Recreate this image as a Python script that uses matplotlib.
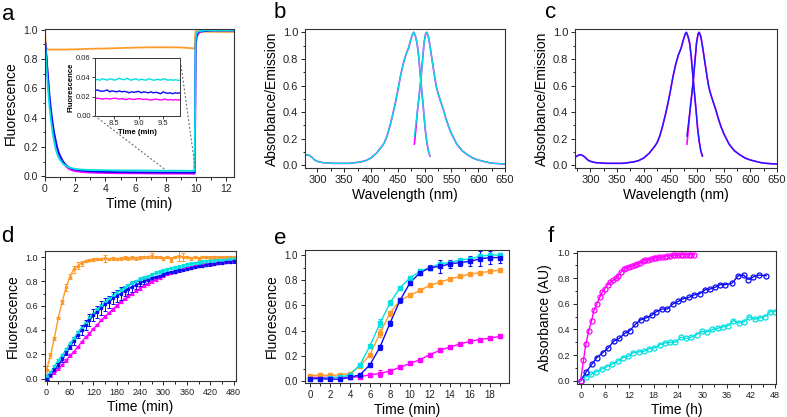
import numpy as np
import matplotlib
matplotlib.use("Agg")
import matplotlib.pyplot as plt
from matplotlib.patches import ConnectionPatch
from matplotlib.ticker import MultipleLocator

plt.rcParams['font.family'] = ['Liberation Sans', 'DejaVu Sans']

MAG = '#FF00FF'
BLUE = '#0A0AF5'
CYAN = '#00E0E0'
ORANGE = '#FF9A2A'

# ---------- panel a: fluorescence time course ----------
t_a = [0, 0.05, 0.1, 0.2, 0.3, 0.4, 0.5, 0.6, 0.7, 0.8, 0.9, 1.0, 1.2, 1.4, 1.6, 1.8, 2.0,
       2.5, 3, 4, 5, 6, 7, 8, 9, 9.9, 9.93, 9.96, 10.0, 10.05, 10.1, 10.2, 10.3, 10.5, 11, 12, 12.5]
a_orange = [1.0, 0.9, 0.87, 0.865, 0.865, 0.865, 0.865, 0.865, 0.865, 0.865, 0.865, 0.865, 0.865,
            0.865, 0.866, 0.866, 0.866, 0.868, 0.87, 0.872, 0.875, 0.878, 0.88, 0.88, 0.879, 0.872,
            0.95, 0.99, 0.99, 0.99, 0.99, 0.988, 0.988, 0.987, 0.986, 0.985, 0.985]
a_magenta = [0.93, 0.87, 0.8, 0.65, 0.52, 0.42, 0.34, 0.27, 0.22, 0.18, 0.15, 0.12, 0.09, 0.065,
             0.05, 0.04, 0.035, 0.028, 0.025, 0.022, 0.02, 0.02, 0.019, 0.018, 0.018, 0.017,
             0.3, 0.8, 0.92, 0.95, 0.965, 0.98, 0.985, 0.99, 0.995, 0.995, 0.995]
a_blue = [0.93, 0.88, 0.82, 0.68, 0.55, 0.45, 0.37, 0.30, 0.25, 0.20, 0.165, 0.14, 0.10, 0.075,
          0.06, 0.05, 0.045, 0.038, 0.033, 0.03, 0.028, 0.027, 0.026, 0.026, 0.025, 0.025,
          0.4, 0.88, 0.95, 0.97, 0.98, 0.985, 0.99, 0.99, 0.995, 0.995, 0.995]
a_cyan = [0.92, 0.84, 0.75, 0.60, 0.47, 0.38, 0.30, 0.24, 0.19, 0.155, 0.13, 0.11, 0.085, 0.07,
          0.06, 0.055, 0.05, 0.045, 0.043, 0.041, 0.04, 0.04, 0.039, 0.038, 0.038, 0.037,
          0.5, 0.93, 0.97, 0.98, 0.985, 0.99, 0.99, 0.995, 0.995, 0.995, 0.995]

# inset (zoom on 8.1 - 9.9 min)
t_in = [8.1, 8.15, 8.2, 8.25, 8.3, 8.35, 8.4, 8.45, 8.5, 8.55, 8.6, 8.65, 8.7, 8.75, 8.8, 8.85,
        8.9, 8.95, 9.0, 9.05, 9.1, 9.15, 9.2, 9.25, 9.3, 9.35, 9.4, 9.45, 9.5, 9.55, 9.6, 9.65,
        9.7, 9.75, 9.8, 9.85]
in_cyan = [0.037, 0.038, 0.037, 0.0385, 0.038, 0.037, 0.0385, 0.038, 0.037, 0.038, 0.039, 0.038,
           0.0375, 0.039, 0.038, 0.037, 0.038, 0.0385, 0.037, 0.038, 0.0375, 0.037, 0.0385, 0.038,
           0.037, 0.0375, 0.038, 0.037, 0.0385, 0.038, 0.037, 0.0375, 0.037, 0.0375, 0.037, 0.037]
in_blue = [0.026, 0.027, 0.026, 0.0255, 0.026, 0.027, 0.025, 0.026, 0.0255, 0.025, 0.026, 0.025,
           0.0255, 0.025, 0.024, 0.025, 0.0245, 0.025, 0.0255, 0.024, 0.025, 0.0245, 0.024, 0.025,
           0.024, 0.0245, 0.024, 0.023, 0.025, 0.024, 0.0235, 0.024, 0.023, 0.024, 0.0235, 0.024]
in_magenta = [0.018, 0.0185, 0.018, 0.0175, 0.018, 0.018, 0.0175, 0.018, 0.0185, 0.018, 0.0175,
              0.018, 0.0175, 0.017, 0.018, 0.0175, 0.017, 0.0175, 0.018, 0.0175, 0.017, 0.0175,
              0.017, 0.0165, 0.017, 0.0175, 0.017, 0.0165, 0.017, 0.0175, 0.0165, 0.017, 0.0165,
              0.017, 0.0165, 0.017]

# ---------- panels b, c: absorbance / emission spectra ----------
wl_abs = [270, 275, 280, 285, 290, 295, 300, 310, 320, 330, 340, 350, 360, 370, 380, 390, 400,
          410, 420, 425, 430, 435, 440, 445, 450, 455, 460, 465, 470, 474, 478, 480, 483, 486,
          489, 492, 495, 498, 501, 504, 507, 510]
absorb = [0.06, 0.07, 0.08, 0.075, 0.06, 0.04, 0.03, 0.02, 0.018, 0.015, 0.015, 0.015, 0.015,
          0.02, 0.025, 0.035, 0.055, 0.09, 0.14, 0.17, 0.22, 0.29, 0.37, 0.46, 0.56, 0.67, 0.76,
          0.83, 0.88, 0.94, 0.99, 1.0, 0.97, 0.92, 0.82, 0.68, 0.55, 0.42, 0.28, 0.18, 0.11, 0.07]
wl_em = [481, 484, 487, 490, 493, 496, 499, 502, 504, 507, 510, 513, 516, 519, 522, 526, 530,
         535, 540, 545, 550, 555, 560, 570, 580, 590, 600, 610, 620, 630, 640, 650]
emis = [0.19, 0.30, 0.42, 0.53, 0.64, 0.78, 0.92, 0.99, 1.0, 0.97, 0.9, 0.82, 0.74, 0.66, 0.59,
        0.53, 0.48, 0.42, 0.35, 0.29, 0.24, 0.2, 0.16, 0.11, 0.08, 0.055, 0.04, 0.03, 0.02,
        0.015, 0.012, 0.01]
emis_start_mag = [0.16, 0.28]     # first two emission points of the magenta trace
emis_start_other = [0.22, 0.32]

# ---------- panel d ----------
t_d = [0, 10, 20, 30, 40, 50, 60, 70, 80, 90, 100, 110, 120, 130, 140, 150, 160, 170, 180, 190,
       200, 210, 220, 230, 240, 250, 260, 270, 280, 290, 300, 310, 320, 330, 340, 350, 360, 370,
       380, 390, 400, 410, 420, 430, 440, 450, 460, 470, 480]
d_orange = [0.07, 0.19, 0.33, 0.50, 0.63, 0.75, 0.84, 0.90, 0.93, 0.95, 0.97, 0.975, 0.98, 0.985,
            0.985, 0.99, 0.985, 0.99, 0.985, 0.99, 0.995, 0.99, 0.995, 0.99, 0.995, 1.0, 1.0, 1.01,
            1.0, 1.0, 0.99, 1.0, 0.98, 1.0, 1.01, 1.0, 1.0, 0.99, 1.0, 0.99, 1.0, 1.0, 0.99, 1.0,
            1.0, 0.995, 1.0, 1.0, 1.0]
d_orange_err = [0.03, 0.02, 0.01, 0.01, 0.02, 0.03, 0.02, 0.03, 0.03, 0.02, 0.01, 0.01, 0.01, 0.01,
                0.01, 0.03, 0.01, 0.01, 0.01, 0.01, 0.01, 0.01, 0.01, 0.01, 0.01, 0.01, 0.01, 0.02,
                0.01, 0.01, 0.01, 0.01, 0.02, 0.01, 0.04, 0.03, 0.01, 0.01, 0.01, 0.01, 0.01, 0.01,
                0.02, 0.01, 0.01, 0.01, 0.01, 0.01, 0.01]
d_cyan = [0.02, 0.05, 0.10, 0.15, 0.19, 0.24, 0.29, 0.33, 0.38, 0.42, 0.46, 0.50, 0.53, 0.57,
          0.60, 0.63, 0.66, 0.68, 0.71, 0.73, 0.75, 0.77, 0.79, 0.80, 0.82, 0.83, 0.84, 0.86, 0.87,
          0.88, 0.89, 0.90, 0.91, 0.915, 0.92, 0.93, 0.94, 0.945, 0.95, 0.955, 0.96, 0.965, 0.97,
          0.97, 0.975, 0.98, 0.98, 0.985, 0.985]
d_blue = [0.0, 0.03, 0.07, 0.11, 0.16, 0.21, 0.26, 0.31, 0.36, 0.40, 0.44, 0.48, 0.52, 0.55,
          0.58, 0.61, 0.63, 0.66, 0.68, 0.70, 0.72, 0.74, 0.755, 0.77, 0.785, 0.80, 0.81, 0.825,
          0.835, 0.845, 0.855, 0.865, 0.875, 0.88, 0.89, 0.895, 0.905, 0.91, 0.92, 0.925, 0.93,
          0.935, 0.94, 0.945, 0.95, 0.955, 0.96, 0.962, 0.965]
d_blue_err = [0.01, 0.01, 0.02, 0.02, 0.02, 0.02, 0.02, 0.03, 0.03, 0.04, 0.04, 0.05, 0.05, 0.05,
              0.06, 0.05, 0.05, 0.05, 0.05, 0.05, 0.04, 0.04, 0.04, 0.03, 0.02, 0.02, 0.02, 0.01,
              0.01, 0.01, 0.01, 0.01, 0.01, 0.01, 0.01, 0.01, 0.01, 0.01, 0.01, 0.01, 0.01, 0.01,
              0.01, 0.01, 0.01, 0.01, 0.01, 0.01, 0.01]
d_magenta = [0.0, 0.02, 0.05, 0.08, 0.11, 0.15, 0.19, 0.22, 0.26, 0.30, 0.34, 0.37, 0.41, 0.44,
             0.48, 0.51, 0.54, 0.57, 0.60, 0.63, 0.655, 0.68, 0.70, 0.72, 0.74, 0.76, 0.78, 0.80,
             0.815, 0.83, 0.845, 0.86, 0.87, 0.88, 0.89, 0.90, 0.91, 0.915, 0.925, 0.93, 0.935,
             0.94, 0.945, 0.95, 0.955, 0.96, 0.963, 0.966, 0.97]

# ---------- panel e ----------
t_e = [0, 1, 2, 3, 4, 5, 6, 7, 8, 9, 10, 11, 12, 13, 14, 15, 16, 17, 18, 19]
e_cyan = [0.02, 0.02, 0.025, 0.03, 0.05, 0.13, 0.28, 0.46, 0.62, 0.74, 0.82, 0.87, 0.90, 0.93,
          0.94, 0.96, 0.97, 0.99, 1.0, 1.0]
e_orange = [0.04, 0.05, 0.045, 0.05, 0.06, 0.12, 0.21, 0.38, 0.54, 0.64, 0.68, 0.72, 0.76, 0.785,
            0.81, 0.83, 0.85, 0.86, 0.87, 0.88]
e_blue = [0.02, 0.02, 0.015, 0.015, 0.03, 0.05, 0.13, 0.27, 0.46, 0.64, 0.78, 0.86, 0.90, 0.91,
          0.93, 0.94, 0.95, 0.97, 0.98, 0.98]
e_blue_err = [0.01, 0.01, 0.01, 0.01, 0.01, 0.01, 0.01, 0.02, 0.02, 0.02, 0.02, 0.02, 0.02, 0.05,
              0.03, 0.03, 0.04, 0.06, 0.05, 0.04]
e_magenta = [0.03, 0.03, 0.03, 0.03, 0.03, 0.035, 0.05, 0.06, 0.08, 0.11, 0.14, 0.17, 0.21, 0.245,
             0.27, 0.295, 0.315, 0.33, 0.34, 0.355]
e_err = [0.01, 0.015, 0.01, 0.01, 0.01, 0.01, 0.015, 0.03, 0.02, 0.01, 0.01, 0.01, 0.01, 0.015,
         0.01, 0.01, 0.01, 0.01, 0.01, 0.01]

# ---------- panel f ----------
t_f_mag = [0, 0.7, 1.3, 2.0, 2.7, 3.3, 4.0, 4.7, 5.3, 6.0, 6.7, 7.3, 8.0, 8.7, 9.3, 10.0, 10.7,
           11.3, 12.0, 12.7, 13.3, 14.0, 14.7, 15.3, 16.0, 16.7, 17.3, 18.0, 18.7, 19.3, 20.0,
           20.7, 21.3, 22.0, 22.7, 23.3, 24.0, 24.7, 25.3, 26.0, 26.7, 27.3, 28.0]
f_mag = [0.0, 0.16, 0.29, 0.39, 0.47, 0.55, 0.60, 0.65, 0.69, 0.72, 0.75, 0.77, 0.785, 0.80,
         0.82, 0.85, 0.87, 0.88, 0.89, 0.895, 0.90, 0.91, 0.92, 0.935, 0.94, 0.945, 0.95, 0.955,
         0.96, 0.965, 0.965, 0.97, 0.975, 0.975, 0.98, 0.98, 0.98, 0.985, 0.985, 0.985, 0.985,
         0.985, 0.985]
t_f_blue = [0, 1.4, 2.8, 4.0, 5.5, 6.8, 8.2, 9.5, 10.9, 12.1, 13.5, 14.8, 16.1, 17.5, 18.7, 20.1,
            21.4, 22.8, 24.1, 25.3, 26.7, 28.0, 29.4, 30.7, 31.9, 33.2, 34.4, 35.6, 37.3, 38.9,
            40.2, 41.4, 42.6, 44.0, 45.8]
f_blue = [0, 0.07, 0.13, 0.18, 0.22, 0.255, 0.31, 0.33, 0.37, 0.39, 0.44, 0.475, 0.49, 0.51,
          0.54, 0.56, 0.56, 0.60, 0.62, 0.64, 0.65, 0.67, 0.68, 0.71, 0.715, 0.73, 0.75, 0.75,
          0.76, 0.82, 0.825, 0.79, 0.81, 0.825, 0.82]
t_f_cyan = [0, 1.3, 2.6, 3.9, 5.2, 6.5, 7.8, 9.1, 10.4, 11.7, 13.0, 14.3, 15.6, 16.9, 18.2, 19.5,
            20.8, 22.1, 23.4, 24.7, 26.0, 27.3, 28.6, 29.9, 31.2, 32.5, 33.8, 35.1, 36.4, 37.7,
            39.0, 40.3, 41.6, 42.9, 44.2, 45.5, 46.8, 48.0]
f_cyan = [0, 0.03, 0.05, 0.07, 0.09, 0.11, 0.13, 0.15, 0.18, 0.19, 0.22, 0.225, 0.23, 0.25, 0.255,
          0.28, 0.295, 0.30, 0.30, 0.34, 0.33, 0.34, 0.36, 0.385, 0.38, 0.40, 0.41, 0.42, 0.43,
          0.47, 0.45, 0.46, 0.50, 0.48, 0.49, 0.50, 0.54, 0.54]

W, H = 787, 417
fig = plt.figure(figsize=(W / 100, H / 100), dpi=100)


def px_axes(l, t, r, b):
    return fig.add_axes([l / W, 1 - b / H, (r - l) / W, (b - t) / H])


def style(ax, fs, xmaj, xmin, ymaj=0.2, ymin=0.1):
    ax.xaxis.set_major_locator(MultipleLocator(xmaj))
    ax.xaxis.set_minor_locator(MultipleLocator(xmin))
    ax.yaxis.set_major_locator(MultipleLocator(ymaj))
    ax.yaxis.set_minor_locator(MultipleLocator(ymin))
    ax.tick_params(which='both', direction='out', top=False, right=False,
                   labelsize=fs, colors='#222222', width=0.7, pad=2)
    ax.tick_params(which='major', length=3)
    ax.tick_params(which='minor', length=1.8)
    for s in ax.spines.values():
        s.set_linewidth(0.8)
        s.set_color('#333333')
    ax.yaxis.set_major_formatter(plt.FuncFormatter(lambda v, p: f'{v:.1f}'))


LAB = 10

# ---- a ----
ax = px_axes(45, 29, 234, 177)
ax.plot(t_a, a_orange, color=ORANGE, lw=1.3)
ax.plot(t_a, a_magenta, color=MAG, lw=1.3)
ax.plot(t_a, a_blue, color=BLUE, lw=1.3)
ax.plot(t_a, a_cyan, color=CYAN, lw=1.3)
ax.set_xlim(0, 12.5)
ax.set_ylim(-0.005, 1.005)
style(ax, 7.5, 2, 1)
ax.set_xlabel('Time (min)', fontsize=LAB, labelpad=2)
ax.set_ylabel('Fluorescence', fontsize=LAB, labelpad=4)

axin = px_axes(95, 58, 180, 116)
axin.plot(t_in, in_cyan, color=CYAN, lw=1.0)
axin.plot(t_in, in_blue, color=BLUE, lw=1.0)
axin.plot(t_in, in_magenta, color=MAG, lw=1.0)
axin.set_xlim(8.1, 9.85)
axin.set_ylim(0, 0.06)
axin.xaxis.set_major_locator(MultipleLocator(0.5))
axin.yaxis.set_major_locator(MultipleLocator(0.02))
axin.tick_params(direction='out', labelsize=5.5, length=2, width=0.6, pad=1, colors='#222222')
axin.yaxis.set_major_formatter(plt.FuncFormatter(lambda v, p: f'{v:.2f}'))
for s in axin.spines.values():
    s.set_linewidth(0.7)
    s.set_color('#333333')
axin.set_xlabel('Time (min)', fontsize=5.5, fontweight='bold', labelpad=1)
axin.set_ylabel('Fluorescence', fontsize=5.5, fontweight='bold', labelpad=1)
for xa, xb in [((0, 0), (7.95, 0.045)), ((1, 1), (9.95, 0.045))]:
    cp = ConnectionPatch(xyA=xa, coordsA=axin.transAxes, xyB=xb, coordsB=ax.transData,
                         ls=(0, (1, 2.5)), color='#666666', lw=0.8)
    fig.add_artist(cp)

# ---- b, c ----
emis_mag = emis_start_mag + emis[2:]
emis_other = emis_start_other + emis[2:]
for (l, r, xlo, col_top) in [(305, 505, 277, CYAN), (575, 777, 271, '#1A1AFF')]:
    axs = px_axes(l, 29, r, 168)
    axs.plot(wl_abs, absorb, color=MAG, lw=1.2)
    axs.plot(wl_em, emis_mag, color=MAG, lw=1.2)
    axs.plot(wl_abs, absorb, color=col_top, lw=1.0)
    axs.plot(wl_em, emis_other, color=col_top, lw=1.0)
    axs.set_xlim(xlo, 650)
    axs.set_ylim(-0.02, 1.025)
    style(axs, 8, 50, 25)
    axs.set_xlabel('Wavelength (nm)', fontsize=LAB, labelpad=2)
    axs.set_ylabel('Absorbance/Emission', fontsize=LAB, labelpad=3)

# ---- d ----
ax = px_axes(45, 251, 236, 381)
for y, c, err in [(d_orange, ORANGE, d_orange_err), (d_magenta, MAG, 0.01),
                  (d_cyan, CYAN, 0.012), (d_blue, BLUE, d_blue_err)]:
    ax.plot(t_d, y, color=c, lw=1.0)
    ax.errorbar(t_d, y, yerr=err, fmt='s', ms=1.8, color=c, ecolor=c, elinewidth=0.7,
                capsize=1.2, capthick=0.7)
ax.set_xlim(-4, 486)
ax.set_ylim(-0.02, 1.05)
style(ax, 6.5, 60, 30)
ax.set_xlabel('Time (min)', fontsize=LAB, labelpad=2)
ax.set_ylabel('Fluorescence', fontsize=LAB, labelpad=4)

# ---- e ----
ax = px_axes(305, 250, 509, 383)
for y, c, err in [(e_magenta, MAG, e_err), (e_orange, ORANGE, e_err),
                  (e_cyan, CYAN, e_err), (e_blue, BLUE, e_blue_err)]:
    ax.plot(t_e, y, color=c, lw=1.0)
    ax.errorbar(t_e, y, yerr=err, fmt='s', ms=2.2, color=c, ecolor=c, elinewidth=0.8,
                capsize=1.5, capthick=0.8)
ax.set_xlim(-0.5, 19.9)
ax.set_ylim(-0.015, 1.04)
style(ax, 7, 2, 1)
ax.set_xlabel('Time (min)', fontsize=LAB, labelpad=2)
ax.set_ylabel('Fluorescence', fontsize=LAB, labelpad=4)

# ---- f ----
ax = px_axes(577, 251, 776, 384)
for tt, y, c in [(t_f_cyan, f_cyan, CYAN), (t_f_blue, f_blue, BLUE), (t_f_mag, f_mag, MAG)]:
    ax.plot(tt, y, color=c, lw=1.0)
    ax.plot(tt, y, 'o', ms=3.6, mfc='none', mec=c, mew=0.9)
ax.set_xlim(-0.9, 48.2)
ax.set_ylim(-0.026, 1.013)
style(ax, 6.5, 6, 3)
ax.set_xlabel('Time (h)', fontsize=LAB, labelpad=2)
ax.set_ylabel('Absorbance (AU)', fontsize=LAB, labelpad=4)

for txt, x, y in [('a', 2, 14), ('b', 274, 13), ('c', 545, 13),
                  ('d', 1, 236), ('e', 274, 238), ('f', 548, 236)]:
    fig.text(x / W, 1 - y / H, txt, fontsize=16, va='center', ha='left')

fig.savefig('out.png', dpi=100)
